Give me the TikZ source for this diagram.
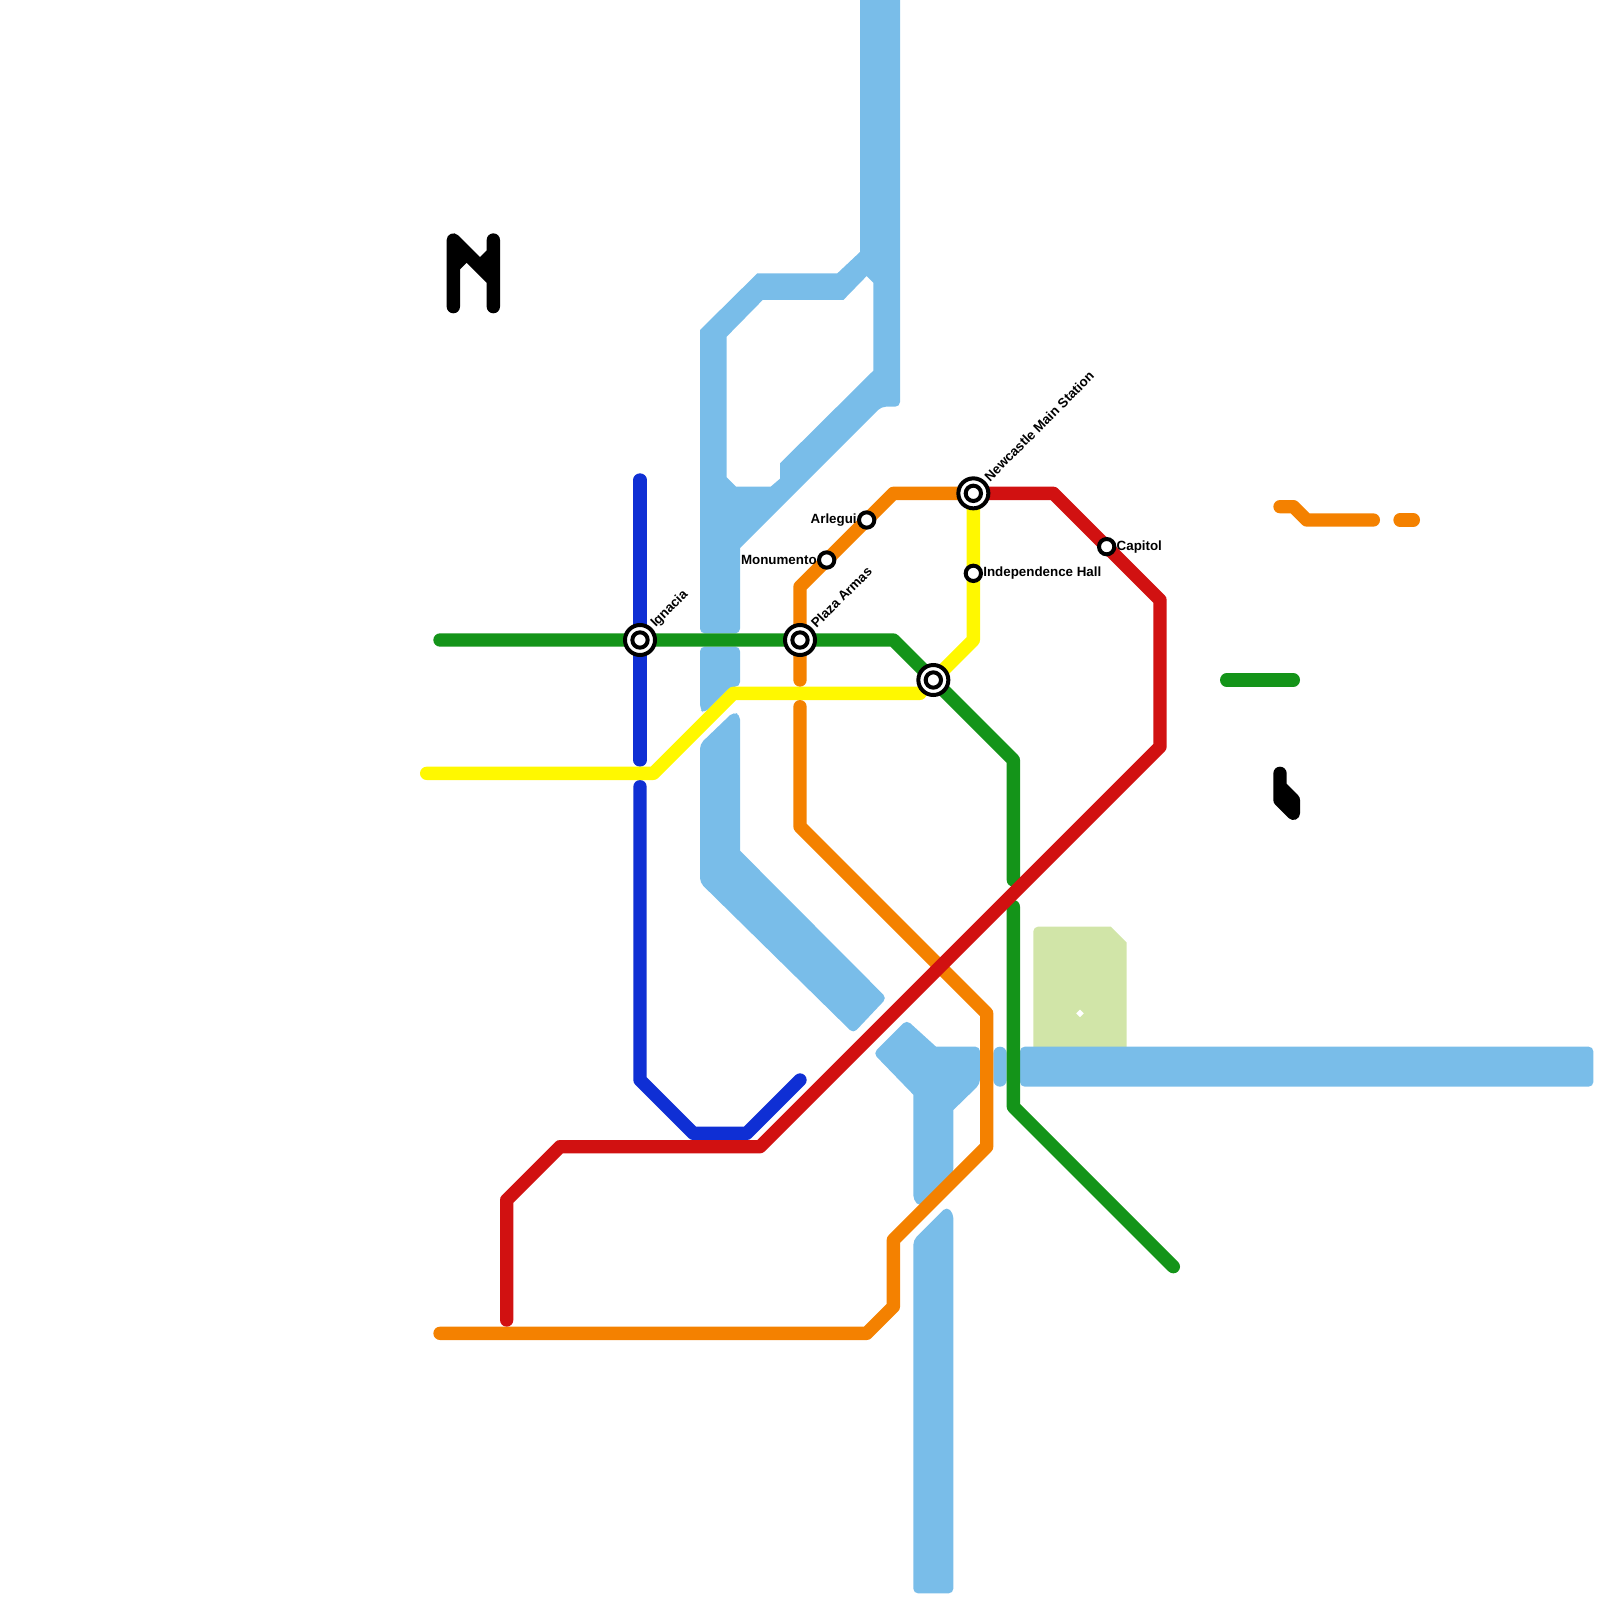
\documentclass[tikz,border=0pt]{standalone}
\usepackage{fontspec}
\setmainfont{Liberation Sans}
\usetikzlibrary{positioning, calc, backgrounds}
\definecolor{riverblue}{HTML}{79BDE9}
\definecolor{parkgreen}{HTML}{D1E5A8}
\definecolor{linegreen}{HTML}{149419}
\definecolor{lineblue}{HTML}{0F2FD4}
\definecolor{lineyellow}{HTML}{FFF800}
\definecolor{lineorange}{HTML}{F48100}
\definecolor{linered}{HTML}{D11111}
\tikzset{
	metroline/.style={line width=0.2cm, line cap=round, line join=round},
	soft/.style={rounded corners=0.07cm},
	crisp/.style={sharp corners},
	water/.style={fill=riverblue, even odd rule, soft},
	park/.style={fill=parkgreen, even odd rule, soft},
	smallstation/.style={draw=black, circle, fill=white, line width=0.06cm, minimum size=0.23cm, inner sep=0pt, outer sep=0pt},
	bigstation/.style={draw=black, circle, fill=white, line width=0.06cm, minimum size=0.45cm, inner sep=0pt, outer sep=0pt},
	stationlabel/.style={inner sep=0pt, outer sep=0pt, font=\fontsize{5.7}{6.8}\selectfont\bfseries},
}
\begin{document}
\begin{tikzpicture}[x=0.2cm, y=-0.2cm]
	\useasboundingbox (0, 0) rectangle (120, 120);
	\node[bigstation] (ignacia) at (48, 48) {};
	\node[smallstation] (ignacia_dot) at (ignacia) {};
	\node[bigstation] (plaza) at (60, 48) {};
	\node[smallstation] (plaza_dot) at (plaza) {};
	\node[bigstation] (junction) at (70, 51) {};
	\node[smallstation] (junction_dot) at (junction) {};
	\node[bigstation] (newcastle) at (73, 37) {};
	\node[smallstation] (newcastle_dot) at (newcastle) {};
	\node[smallstation] (monumento) at (62, 42) {};
	\node[smallstation] (arlegui) at (65, 39) {};
	\node[smallstation] (independence) at (73, 43) {};
	\node[smallstation] (capitol) at (83, 41) {};
	\node[stationlabel, anchor=west, rotate=45] (ignacia_label) at ($(ignacia) + (1.0, -1.1)$) {Ignacia};
	\node[stationlabel, anchor=west, rotate=45] (plaza_label) at ($(plaza) + (1.0, -1.1)$) {Plaza Armas};
	\node[stationlabel, anchor=west, rotate=45] (newcastle_label) at ($(newcastle) + (1.0, -1.1)$) {Newcastle Main Station};
	\node[stationlabel, left=0.035cm of monumento] (monumento_label) {Monumento};
	\node[stationlabel, left=0.035cm of arlegui] (arlegui_label) {Arlegui};
	\node[stationlabel, right=0.035cm of independence] (independence_label) {Independence Hall};
	\node[stationlabel, right=0.035cm of capitol] (capitol_label) {Capitol};

	\coordinate (green_a) at (33, 48);
	\coordinate (green_b) at (67, 48);
	\coordinate (green_c) at (76, 57);
	\coordinate (green_d) at (76, 66);
	\coordinate (green_e) at (76, 68);
	\coordinate (green_f) at (76, 83);
	\coordinate (green_g) at (88, 95);
	\coordinate (green_h) at (92, 51);
	\coordinate (green_i) at (97, 51);
	\coordinate (blue_a) at (48, 36);
	\coordinate (blue_b) at (48, 57);
	\coordinate (blue_c) at (48, 59);
	\coordinate (blue_d) at (48, 81);
	\coordinate (blue_e) at (52, 85);
	\coordinate (blue_f) at (56, 85);
	\coordinate (blue_g) at (60, 81);
	\coordinate (yellow_a) at (32, 58);
	\coordinate (yellow_b) at (49, 58);
	\coordinate (yellow_c) at (55, 52);
	\coordinate (yellow_d) at (69, 52);
	\coordinate (yellow_e) at (73, 48);
	\coordinate (orange_a) at (33, 100);
	\coordinate (orange_b) at (65, 100);
	\coordinate (orange_c) at (67, 98);
	\coordinate (orange_d) at (67, 93);
	\coordinate (orange_e) at (74, 86);
	\coordinate (orange_f) at (74, 76);
	\coordinate (orange_g) at (60, 62);
	\coordinate (orange_h) at (60, 53);
	\coordinate (orange_i) at (60, 51);
	\coordinate (orange_j) at (60, 44);
	\coordinate (orange_k) at (67, 37);
	\coordinate (orange_l) at (96, 38);
	\coordinate (orange_m) at (97, 38);
	\coordinate (orange_n) at (98, 39);
	\coordinate (orange_o) at (103, 39);
	\coordinate (orange_p) at (105, 39);
	\coordinate (orange_q) at (106, 39);
	\coordinate (red_a) at (38, 99);
	\coordinate (red_b) at (38, 90);
	\coordinate (red_c) at (42, 86);
	\coordinate (red_d) at (57, 86);
	\coordinate (red_e) at (87, 56);
	\coordinate (red_f) at (87, 45);
	\coordinate (red_g) at (79, 37);

	\begin{scope}[on background layer]
		\fill[park] (77.5, 69.5) [crisp] -- (83.3, 69.5) -- (84.5, 70.7) [soft] -- (84.5, 79) -- (77.5, 79) -- cycle
			(81, 75.7) [crisp] -- (81.3, 76) -- (81, 76.3) -- (80.7, 76) -- cycle;
		\fill[water] (64.5, -1) -- (67.5, -1) -- (67.5, 30.5) -- (66.1, 30.5) [crisp] -- (55.5, 41.1) [soft] -- (55.5, 47.5) -- (52.5, 47.5) [crisp] -- (52.5, 24.75) -- (56.8, 20.5) -- (62.8, 20.5) -- (64.5, 18.9) -- cycle
			(54.5, 25.25) [crisp] -- (57.2, 22.5) -- (63.25, 22.5) -- (65, 20.7) -- (65.5, 21.2) -- (65.5, 27.8) -- (58.5, 34.75) -- (58.5, 35.9) -- (57.8, 36.5) -- (55.2, 36.5) -- (54.5, 35.8) -- cycle;
		\fill[water] (52.5, 48.5) -- (55.5, 48.5) -- (55.5, 51.5) -- (54.8, 51.5) -- (52.8, 53.5) -- (52.5, 53.2) -- cycle;
		\fill[water] (55, 53.4) -- (55.5, 53.6) [crisp] -- (55.5, 63.8) [soft] -- (66.5, 74.85) -- (64, 77.5) -- (52.5, 66.2) -- (52.5, 55.8) -- cycle;
		\fill[water] (68, 76.5) [crisp] -- (70.2, 78.5) [soft] -- (73.5, 78.5) -- (73.5, 81.3) [crisp] -- (71.5, 83.25) [soft] -- (71.5, 88) -- (69, 90.5) -- (68.5, 90) [crisp] -- (68.5, 82.1) [soft] -- (65.5, 79) -- cycle;
		\fill[water, rounded corners=0.1cm] (74.5, 78.5) -- (75.5, 78.5) -- (75.5, 81.5) -- (74.5, 81.5) -- cycle;
		\fill[water] (76.5, 78.5) -- (119.5, 78.5) -- (119.5, 81.5) -- (76.5, 81.5) -- cycle;
		\fill[water] (71, 90.5) -- (71.5, 91) -- (71.5, 119.5) -- (68.5, 119.5) -- (68.5, 93) -- cycle;

		\draw[metroline, black] (34, 23) -- (34, 18) -- (37, 21) (37, 23) -- (37, 18) (34, 20) -- (35, 19) (36, 20) -- (37, 19);
		\draw[metroline, black] (96, 58) -- (96, 60) -- (97, 61) -- (97, 60) -- (96, 59);

		\draw[metroline, linegreen] (green_a) -- (green_b) -- (green_c) -- (green_d);
		\draw[metroline, linegreen] (green_e) -- (green_f) -- (green_g);
		\draw[metroline, linegreen] (green_h) -- (green_i);
		\draw[metroline, lineblue] (blue_a) -- (blue_b);
		\draw[metroline, lineblue] (blue_c) -- (blue_d) -- (blue_e) -- (blue_f) -- (blue_g);
		\draw[metroline, lineyellow] (yellow_a) -- (yellow_b) -- (yellow_c) -- (yellow_d);
		\draw[metroline, lineyellow] (newcastle) -- (independence) -- (yellow_e) -- (junction);
		\draw[metroline, lineorange] (orange_a) -- (orange_b) -- (orange_c) -- (orange_d) -- (orange_e) -- (orange_f) -- (orange_g) -- (orange_h);
		\draw[metroline, lineorange] (orange_i) -- (orange_j) -- (orange_k) -- (newcastle);
		\draw[metroline, lineorange] (orange_l) -- (orange_m) -- (orange_n) -- (orange_o);
		\draw[metroline, lineorange] (orange_p) -- (orange_q);
		\draw[metroline, linered] (red_a) -- (red_b) -- (red_c) -- (red_d) -- (red_e) -- (red_f) -- (red_g) -- (newcastle);
	\end{scope}
\end{tikzpicture}
\end{document}
